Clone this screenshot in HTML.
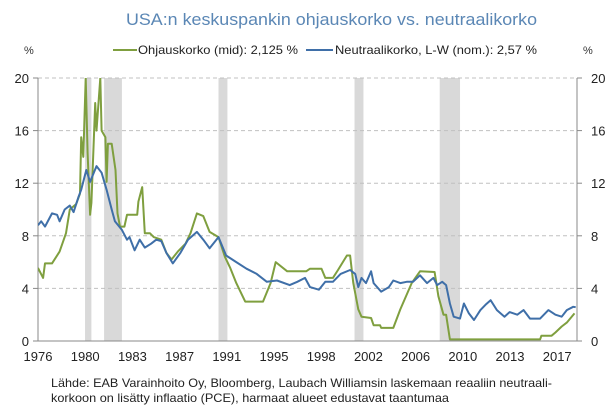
<!DOCTYPE html>
<html><head><meta charset="utf-8"><style>
html,body{margin:0;padding:0;background:#fff;}
svg{display:block;font-family:"Liberation Sans",sans-serif;}
</style></head><body>
<svg id="chart" width="616" height="414" viewBox="0 0 616 414">
<text x="126" y="25" font-size="17" fill="#5b87b5" textLength="411" lengthAdjust="spacingAndGlyphs">USA:n keskuspankin ohjauskorko vs. neutraalikorko</text>
<text x="24" y="54" font-size="11" fill="#333">%</text>
<text x="583" y="54" font-size="11" fill="#333">%</text>
<g>
<line x1="113" y1="50" x2="137" y2="50" stroke="#7f9f3f" stroke-width="2"/>
<text x="138" y="54" font-size="12" fill="#222" textLength="160" lengthAdjust="spacingAndGlyphs">Ohjauskorko (mid): 2,125 %</text>
<line x1="306" y1="50" x2="333" y2="50" stroke="#3f6fa8" stroke-width="2"/>
<text x="335" y="54" font-size="12" fill="#222" textLength="202" lengthAdjust="spacingAndGlyphs">Neutraalikorko, L-W (nom.): 2,57 %</text>
</g>
<g id="plot"></g>
<text x="51" y="387" font-size="12" fill="#222" textLength="501" lengthAdjust="spacingAndGlyphs">Lähde: EAB Varainhoito Oy, Bloomberg, Laubach Williamsin laskemaan reaaliin neutraali-</text>
<text x="51" y="402" font-size="12" fill="#222" textLength="398" lengthAdjust="spacingAndGlyphs">korkoon on lisätty inflaatio (PCE), harmaat alueet edustavat taantumaa</text>
</svg>
<script>
const yTicks=[0,4,8,12,16,20];
const xTickLabels=["1976","1980","1983","1987","1991","1995","1998","2002","2006","2010","2013","2017"];
const recessionStart=[1980.0,1981.5,1990.5,2001.2,2007.9];
const recessionEnd=[1980.5,1982.9,1991.2,2001.9,2009.5];
const policyYears=[1976.3,1976.7,1976.85,1977.4,1978.0,1978.5,1978.8,1979.3,1979.6,1979.7,1979.86,1980.05,1980.2,1980.4,1980.5,1980.8,1980.9,1981.2,1981.3,1981.6,1981.7,1981.8,1982.1,1982.4,1982.55,1982.75,1983.1,1983.3,1984.1,1984.2,1984.5,1984.7,1985.1,1985.4,1986.0,1986.4,1986.8,1987.3,1987.9,1988.3,1988.8,1989.3,1989.8,1990.5,1991.0,1991.4,1991.9,1992.6,1994.0,1994.6,1995.0,1995.9,1997.4,1997.7,1998.6,1998.9,1999.5,1999.9,2000.6,2000.85,2001.1,2001.5,2001.75,2002.5,2002.7,2003.2,2003.3,2004.25,2004.8,2005.7,2006.35,2007.5,2007.8,2008.2,2008.4,2008.7,2015.8,2015.9,2016.7,2017.0,2017.5,2017.9,2018.5];
const policyValues=[5.55,4.8,5.9,5.9,6.8,8.2,10,10.4,11.2,15.5,14,20,14.3,9.6,10.5,18.1,16,20,16,15.5,12.1,15,15,13,9.7,8.7,8.7,9.6,9.6,10.6,11.7,8.2,8.2,7.9,7.7,6.7,6.2,6.8,7.4,8.2,9.7,9.5,8.3,7.9,6.4,5.6,4.4,3.0,3.0,4.4,6.0,5.3,5.3,5.5,5.5,4.8,4.8,5.4,6.5,6.5,4.4,2.4,1.85,1.75,1.2,1.2,1.0,1.0,2.4,4.4,5.3,5.25,3.4,2.0,2.0,0.12,0.12,0.4,0.4,0.65,1.1,1.4,2.1];
const neutralYears=[1976.3,1976.55,1976.85,1977.4,1977.8,1978.0,1978.4,1978.8,1979.1,1979.5,1979.7,1980.1,1980.4,1980.9,1981.3,1981.7,1982.1,1982.35,1982.9,1983.3,1983.5,1983.9,1984.3,1984.7,1985.2,1985.6,1986.0,1986.4,1986.9,1987.5,1988.1,1988.8,1989.3,1989.8,1990.5,1991.1,1991.9,1992.7,1993.5,1994.3,1995.1,1996.1,1996.7,1997.3,1997.7,1998.4,1998.9,1999.5,2000.1,2000.85,2001.25,2001.5,2001.75,2002.1,2002.5,2002.7,2003.3,2003.9,2004.25,2004.8,2005.3,2005.8,2006.35,2006.9,2007.4,2007.7,2008.1,2008.4,2008.7,2009.0,2009.5,2009.8,2010.2,2010.6,2011.1,2011.5,2011.9,2012.4,2013.0,2013.4,2014.0,2014.5,2015.0,2015.8,2016.45,2017.0,2017.5,2017.9,2018.4,2018.6];
const neutralValues=[8.8,9.1,8.7,9.7,9.6,9.1,10,10.3,9.8,11,11.5,13,12.1,13.3,12.8,11.5,10,9.1,8.45,7.7,7.9,6.9,7.7,7.1,7.4,7.7,7.6,6.7,5.9,6.7,7.7,8.3,7.7,7.05,7.9,6.5,6.0,5.5,5.1,4.5,4.6,4.25,4.5,4.8,4.1,3.9,4.5,4.5,5.1,5.4,5.1,4.1,4.8,4.4,5.3,4.4,3.75,4.1,4.6,4.4,4.5,4.5,5.0,4.4,4.8,4.25,4.5,4.25,2.85,1.85,1.7,2.85,2.1,1.6,2.35,2.75,3.1,2.35,1.85,2.2,2.0,2.35,1.7,1.7,2.35,2.0,1.85,2.35,2.6,2.57];

const X0=38,X1=577,Y0=341,Y1=78,D0=1976.3,D1=2018.7;
function xScale(d){return X0+(d-D0)/(D1-D0)*(X1-X0);}
function yScale(v){return Y0-(v/20)*(Y0-Y1);}
const NS="http://www.w3.org/2000/svg";
const plot=document.getElementById('plot');
function mk(tag,attrs){const e=document.createElementNS(NS,tag);for(const k in attrs)e.setAttribute(k,attrs[k]);plot.appendChild(e);return e;}

recessionStart.forEach((s,i)=>{
  const r=mk('rect',{x:xScale(s),y:Y1,width:xScale(recessionEnd[i])-xScale(s),height:Y0-Y1,fill:'#d9d9d9'});
  
  
});
yTicks.forEach(t=>{
  const y=yScale(t);
  if(t>0){const g=mk('line',{x1:X0,x2:X1,y1:y,y2:y,stroke:'#c0c0c0','stroke-dasharray':'4,3','stroke-width':1});
    
    }
  const tl=mk('line',{x1:X0-5,x2:X0,y1:y,y2:y,stroke:'#888'});
  
  
  const tr=mk('line',{x1:X1,x2:X1+5,y1:y,y2:y,stroke:'#888'});
  
  
  const a=mk('text',{x:29,y:y+5,'font-size':13,'text-anchor':'end',fill:'#222'});a.textContent=t;
  
  
  const b=mk('text',{x:591,y:y+5,'font-size':13,fill:'#222'});b.textContent=t;
  
  
});
const ax=mk('polyline',{points:`${X0},${Y1} ${X0},${Y0} ${X1},${Y0} ${X1},${Y1}`,fill:'none',stroke:'#888'});


xTickLabels.forEach((lab,i)=>{
  const t=mk('text',{x:xScale(D0+i*3.713),y:361,'font-size':13,'text-anchor':'middle',fill:'#222'});
  t.textContent=lab;
  
  
});
const clip=document.createElementNS(NS,'clipPath');clip.setAttribute('id','pc');
const cr=document.createElementNS(NS,'rect');cr.setAttribute('x',X0);cr.setAttribute('y',Y1);cr.setAttribute('width',X1-X0);cr.setAttribute('height',Y0-Y1);
clip.appendChild(cr);plot.appendChild(clip);
function line(xs,vs,color,name){
  const p=mk('polyline',{points:xs.map((d,i)=>xScale(d).toFixed(1)+','+yScale(vs[i]).toFixed(1)).join(' '),fill:'none',stroke:color,'stroke-width':2,'stroke-linejoin':'round','clip-path':'url(#pc)'});
  
  
}
line(policyYears,policyValues,'#7f9f3f','policy-rate-line');
line(neutralYears,neutralValues,'#3f6fa8','neutral-rate-line');
</script>
</body></html>
